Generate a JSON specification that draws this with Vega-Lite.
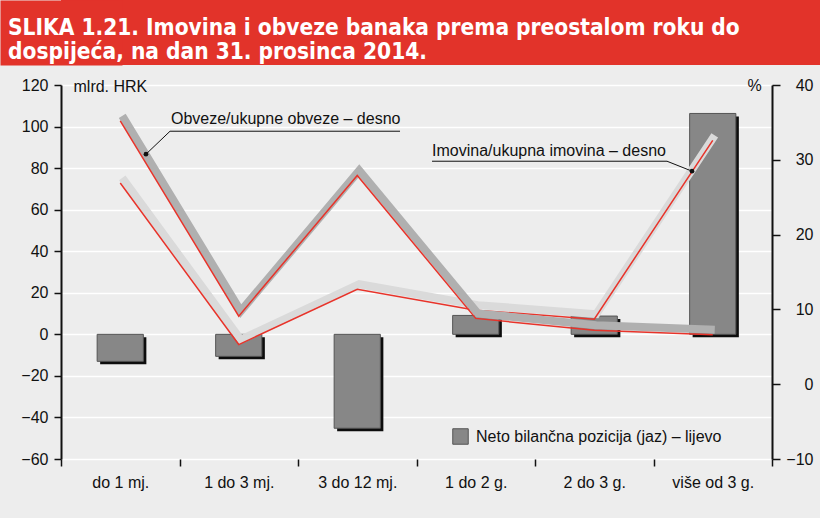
{
  "$schema": "https://vega.github.io/schema/vega-lite/v6.json",
  "background": "#ededed",
  "padding": {"left": 0, "top": 0, "right": 0, "bottom": 28},
  "spacing": 12,
  "config": {
    "font": "Liberation Sans",
    "view": {"stroke": null},
    "axis": {
      "labelFont": "Liberation Sans", "labelFontSize": 16, "labelColor": "#111",
      "titleFont": "Liberation Sans", "titleFontSize": 16, "titleFontWeight": "normal", "titleColor": "#111",
      "domainColor": "#111", "tickColor": "#111"
    }
  },
  "vconcat": [
    {
      "width": 759,
      "height": 65,
      "view": {"fill": "#e2332a", "stroke": null},
      "data": {"values": [{"t": "SLIKA 1.21. Imovina i obveze banaka prema preostalom roku do\ndospijeća, na dan 31. prosinca 2014."}]},
      "mark": {"type": "text", "align": "left", "baseline": "middle", "dx": -53, "dy": -5, "lineBreak": "\n", "lineHeight": 24, "font": "DejaVu Sans Condensed", "fontWeight": "bold", "fontSize": 22.5, "color": "white"},
      "encoding": {
        "text": {"field": "t"},
        "x": {"datum": 0, "type": "quantitative", "scale": {"domain": [0, 1]}, "axis": null},
        "y": {"datum": 0.5, "type": "quantitative", "scale": {"domain": [0, 1]},
          "axis": {"title": null, "labels": false, "ticks": false, "grid": false, "domain": true, "domainColor": "#e2332a", "domainWidth": 122}}
      }
    },
    {
      "width": 711,
      "height": 374,
      "layer": [
        {
          "data": {"values": [
            {"cat": "do 1 mj.", "jaz": -13},
            {"cat": "1 do 3 mj.", "jaz": -10.6},
            {"cat": "3 do 12 mj.", "jaz": -45.2},
            {"cat": "1 do 2 g.", "jaz": 9.1},
            {"cat": "2 do 3 g.", "jaz": 8.8},
            {"cat": "više od 3 g.", "jaz": 106.3}
          ]},
          "encoding": {
            "x": {"field": "cat", "type": "nominal", "sort": null,
              "scale": {"paddingInner": 0, "paddingOuter": 0},
              "axis": {"title": null, "domain": false, "tickBand": "extent", "tickSize": 7, "tickWidth": 1.5, "labelAngle": 0, "labelPadding": 8, "grid": false}}
          },
          "layer": [
            {
              "mark": {"type": "bar", "width": {"band": 0.39}, "color": "#0d0d0d", "xOffset": 3, "x2Offset": 3, "yOffset": 3, "y2Offset": 3},
              "encoding": {
                "y": {"field": "jaz", "type": "quantitative", "scale": {"domain": [-60, 120], "nice": false},
                  "axis": {"title": "mlrd. HRK", "titleAngle": 0, "titleX": 12, "titleY": 1, "titleAlign": "left", "titleBaseline": "middle",
                    "values": [-60, -40, -20, 0, 20, 40, 60, 80, 100, 120], "grid": true, "gridColor": "#ffffff", "gridWidth": 1.5,
                    "domainWidth": 2, "tickSize": 7, "tickWidth": 1.5, "labelPadding": 6, "minExtent": 61}}
              }
            },
            {
              "mark": {"type": "bar", "width": {"band": 0.39}, "stroke": "#555555", "strokeWidth": 1},
              "encoding": {
                "y": {"field": "jaz", "type": "quantitative"},
                "color": {"datum": "Neto bilančna pozicija (jaz) – lijevo", "scale": {"range": ["#878787"]},
                  "legend": {"title": null, "orient": "none", "legendX": 391, "legendY": 428, "symbolType": "square", "symbolSize": 240,
                    "symbolStrokeWidth": 1, "labelFontSize": 16, "labelFont": "Liberation Sans", "labelColor": "#111", "labelOffset": 7, "labelLimit": 500, "padding": 0,
                    "encode": {"symbols": {"update": {"fill": {"value": "#5f5f5f"}, "stroke": {"value": "#333333"}}}}}}
              }
            },
            {
              "mark": {"type": "rule", "color": "#111", "strokeWidth": 2},
              "encoding": {"y": {"datum": 0, "type": "quantitative"}}
            }
          ]
        },
        {
          "data": {"values": [
            {"s": "Imovina", "cat": "do 1 mj.", "pct": 26.9},
            {"s": "Imovina", "cat": "1 do 3 mj.", "pct": 5.3},
            {"s": "Imovina", "cat": "3 do 12 mj.", "pct": 12.7},
            {"s": "Imovina", "cat": "1 do 2 g.", "pct": 9.9},
            {"s": "Imovina", "cat": "2 do 3 g.", "pct": 8.7},
            {"s": "Imovina", "cat": "više od 3 g.", "pct": 32.6},
            {"s": "Obveze", "cat": "do 1 mj.", "pct": 35.2},
            {"s": "Obveze", "cat": "1 do 3 mj.", "pct": 9.1},
            {"s": "Obveze", "cat": "3 do 12 mj.", "pct": 27.9},
            {"s": "Obveze", "cat": "1 do 2 g.", "pct": 8.8},
            {"s": "Obveze", "cat": "2 do 3 g.", "pct": 7.2},
            {"s": "Obveze", "cat": "više od 3 g.", "pct": 6.6}
          ]},
          "encoding": {
            "x": {"field": "cat", "type": "nominal", "sort": null, "scale": {"type": "point", "padding": 0.5}, "axis": null},
            "y": {"field": "pct", "type": "quantitative", "scale": {"domain": [-10, 40], "nice": false},
              "axis": {"orient": "right", "title": "%", "titleAngle": 0, "titleX": -18, "titleY": 0, "titleAlign": "center", "titleBaseline": "middle",
                "values": [-10, 0, 10, 20, 30, 40], "grid": false, "domainWidth": 2, "tickSize": 8, "tickWidth": 1.5, "labelAlign": "right", "labelPadding": 33}}
          },
          "layer": [
            {"transform": [{"filter": "datum.s == 'Imovina'"}], "mark": {"type": "line", "color": "#dadada", "strokeWidth": 8, "yOffset": -5, "xOffset": 2}},
            {"transform": [{"filter": "datum.s == 'Imovina'"}], "mark": {"type": "line", "color": "#e8332a", "strokeWidth": 1.5}},
            {"transform": [{"filter": "datum.s == 'Obveze'"}], "mark": {"type": "line", "color": "#b0b0b0", "strokeWidth": 8, "yOffset": -5, "xOffset": 2}},
            {"transform": [{"filter": "datum.s == 'Obveze'"}], "mark": {"type": "line", "color": "#e8332a", "strokeWidth": 1.5}}
          ]
        },
        {
          "encoding": {
            "x": {"field": "x", "type": "quantitative", "scale": {"domain": [0, 6], "nice": false, "zero": false}, "axis": null},
            "y": {"field": "v", "type": "quantitative", "scale": {"domain": [-10, 40], "nice": false, "zero": false}, "axis": null}
          },
          "layer": [
            {
              "data": {"values": [
                {"id": "o", "o": 1, "x": 0.717, "v": 30.75},
                {"id": "o", "o": 2, "x": 0.92, "v": 33.82},
                {"id": "o", "o": 3, "x": 2.861, "v": 33.82},
                {"id": "i", "o": 1, "x": 5.325, "v": 28.48},
                {"id": "i", "o": 2, "x": 5.114, "v": 29.81},
                {"id": "i", "o": 3, "x": 3.131, "v": 29.81}
              ]},
              "mark": {"type": "line", "color": "#111", "strokeWidth": 1},
              "encoding": {"detail": {"field": "id"}, "order": {"field": "o"}}
            },
            {
              "data": {"values": [{"x": 0.717, "v": 30.75}, {"x": 5.325, "v": 28.48}]},
              "mark": {"type": "point", "filled": true, "color": "#111", "size": 22, "opacity": 1}
            },
            {
              "data": {"values": [
                {"x": 0.928, "v": 34.76, "t": "Obveze/ukupne obveze – desno"},
                {"x": 3.131, "v": 30.55, "t": "Imovina/ukupna imovina – desno"}
              ]},
              "mark": {"type": "text", "align": "left", "baseline": "alphabetic", "fontSize": 16, "color": "#111"},
              "encoding": {"text": {"field": "t"}}
            }
          ]
        }
      ],
      "resolve": {"scale": {"x": "independent", "y": "independent"}}
    }
  ]
}
